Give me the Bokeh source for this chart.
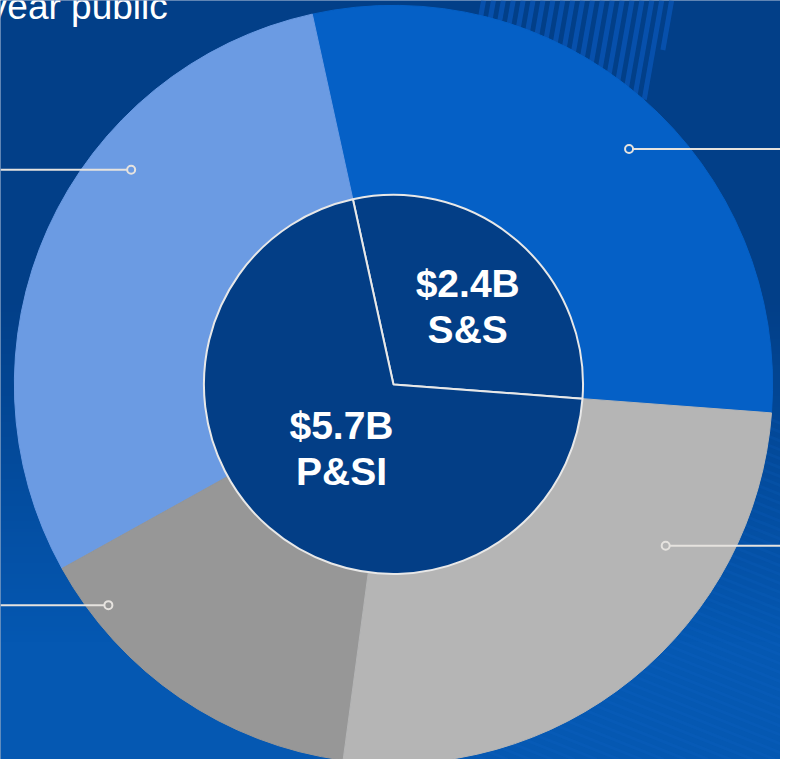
import numpy as np
from bokeh.plotting import figure
from bokeh.models import Range1d, ColumnDataSource
from bokeh.embed import file_html
from bokeh.resources import INLINE
from bokeh.core.properties import value

# ---------------- data ----------------
inner_names = ["S&S", "P&SI"]
inner_values = [2.4, 5.7]
inner_value_text = ["$2.4B", "$5.7B"]

outer_names = ["S&S", "P&SI part 1", "P&SI part 2", "P&SI part 3"]
outer_values = [2.4, 2.4, 1.2, 2.1]

heading_text = ["year public"]

# ---------------- layout / style ----------------
REF_W, REF_H = 788, 767          # coordinate space (reference pixels)
FIG_W, FIG_H = 780, 759
CX, CY = 397, REF_H - 388        # donut centre
R_OUT, R_IN = 383, 191.5
START_DEG = -4.3
TXT_SHIFT = 11                    # baseline correction for rendered text

BG_TOP = (2, 63, 136)
BG_BOT = (5, 88, 178)
INNER_COLOR = "#033e86"
OUTER_COLORS = ["#0560c6", "#6b9be3", "#979797", "#b5b5b5"]
LEADER_COLOR = "#e6e3df"


def wedge_angles(vals, start_deg):
    vals = np.asarray(vals, dtype=float)
    frac = vals / vals.sum()
    cum = np.concatenate([[0], np.cumsum(frac)]) * 2 * np.pi
    start = np.deg2rad(start_deg) + cum[:-1]
    end = np.deg2rad(start_deg) + cum[1:]
    return start, end


p = figure(width=FIG_W, height=FIG_H,
           x_range=Range1d(0, REF_W), y_range=Range1d(0, REF_H),
           output_backend="svg", toolbar_location=None,
           x_axis_location=None, y_axis_location=None, min_border=0)
p.grid.visible = False
p.outline_line_color = None
p.background_fill_color = "#033f88"
p.border_fill_color = "#033f88"

# background gradient
rows = 200
img = np.empty((rows, 2), dtype=np.uint32)
view = img.view(dtype=np.uint8).reshape((rows, 2, 4))
for i in range(rows):
    y_ref = REF_H * (1 - (i + 0.5) / rows)      # row 0 is bottom
    t = np.clip((y_ref - 300) / 350.0, 0, 1)
    for k in range(3):
        view[i, :, k] = int(BG_TOP[k] + (BG_BOT[k] - BG_TOP[k]) * t)
    view[i, :, 3] = 255
p.image_rgba(image=[img], x=0, y=0, dw=REF_W, dh=REF_H)

# decorative stripes behind the ring (top)
xt = np.arange(488, 686, 10.0)
tilt = np.tan(np.deg2rad(10))
yb = np.minimum(200.0, (688 - xt) / 0.2)
p.segment(x0=xt, y0=np.full(xt.shape, float(REF_H)),
          x1=xt - tilt * yb, y1=REF_H - yb,
          line_color="#0a57b8", line_alpha=0.75, line_width=5)

# faint diagonal stripes (bottom right)
cs = np.arange(-320, 767, 9.0)
slope = 0.4
bx0 = np.maximum(480, (420 - cs) / slope)
bx1 = np.minimum(REF_W, (767 - cs) / slope)
keep = bx1 > bx0
cs, bx0, bx1 = cs[keep], bx0[keep], bx1[keep]
p.segment(x0=bx0, y0=REF_H - (cs + slope * bx0),
          x1=bx1, y1=REF_H - (cs + slope * bx1),
          line_color="#1a6cd2", line_alpha=0.13, line_width=3)

# outer ring
o_start, o_end = wedge_angles(outer_values, START_DEG)
osrc = ColumnDataSource(dict(name=outer_names, value=outer_values,
                             start=o_start, end=o_end, color=OUTER_COLORS))
p.annular_wedge(x=CX, y=CY, inner_radius=R_IN, outer_radius=R_OUT,
                start_angle="start", end_angle="end", direction="anticlock",
                fill_color="color", line_color="color", line_width=1,
                source=osrc)

# inner pie
i_start, i_end = wedge_angles(inner_values, START_DEG)
isrc = ColumnDataSource(dict(name=inner_names, value=inner_values,
                             start=i_start, end=i_end))
p.wedge(x=CX, y=CY, radius=R_IN, start_angle="start", end_angle="end",
        direction="anticlock", fill_color=INNER_COLOR,
        line_color="#e8e8e8", line_width=2, source=isrc)

# labels
label_x = [472, 344.5]
label_y1 = [REF_H - 297 + TXT_SHIFT, REF_H - 440 + TXT_SHIFT]
label_y2 = [REF_H - 343 + TXT_SHIFT, REF_H - 487 + TXT_SHIFT]
p.text(x=label_x, y=label_y1, text=inner_value_text, text_align="center",
       text_baseline="alphabetic", text_font=value("Liberation Sans"),
       text_font_style="bold", text_font_size="39px", text_color="white")
p.text(x=label_x, y=label_y2, text=inner_names, text_align="center",
       text_baseline="alphabetic", text_font=value("Liberation Sans"),
       text_font_style="bold", text_font_size="39px", text_color="white")

# heading fragment (cut by the frame, as in the source)
p.text(x=[169], y=[REF_H - 17 + TXT_SHIFT], text=heading_text, text_align="right",
       text_baseline="alphabetic", text_font=value("Liberation Sans"),
       text_font_size="37px", text_color="white")

# leader lines with hollow end markers
dot_x = [635, 132, 109, 672]
dot_y = [REF_H - 150, REF_H - 171, REF_H - 611, REF_H - 551]
edge_x = [REF_W, 0, 0, REF_W]
p.segment(x0=dot_x, y0=dot_y, x1=edge_x, y1=dot_y,
          line_color=LEADER_COLOR, line_width=2)
p.scatter(x=dot_x, y=dot_y, marker="circle", size=8,
          fill_color=OUTER_COLORS,
          line_color=LEADER_COLOR, line_width=2)

open("out.html", "w").write(file_html(p, INLINE))
